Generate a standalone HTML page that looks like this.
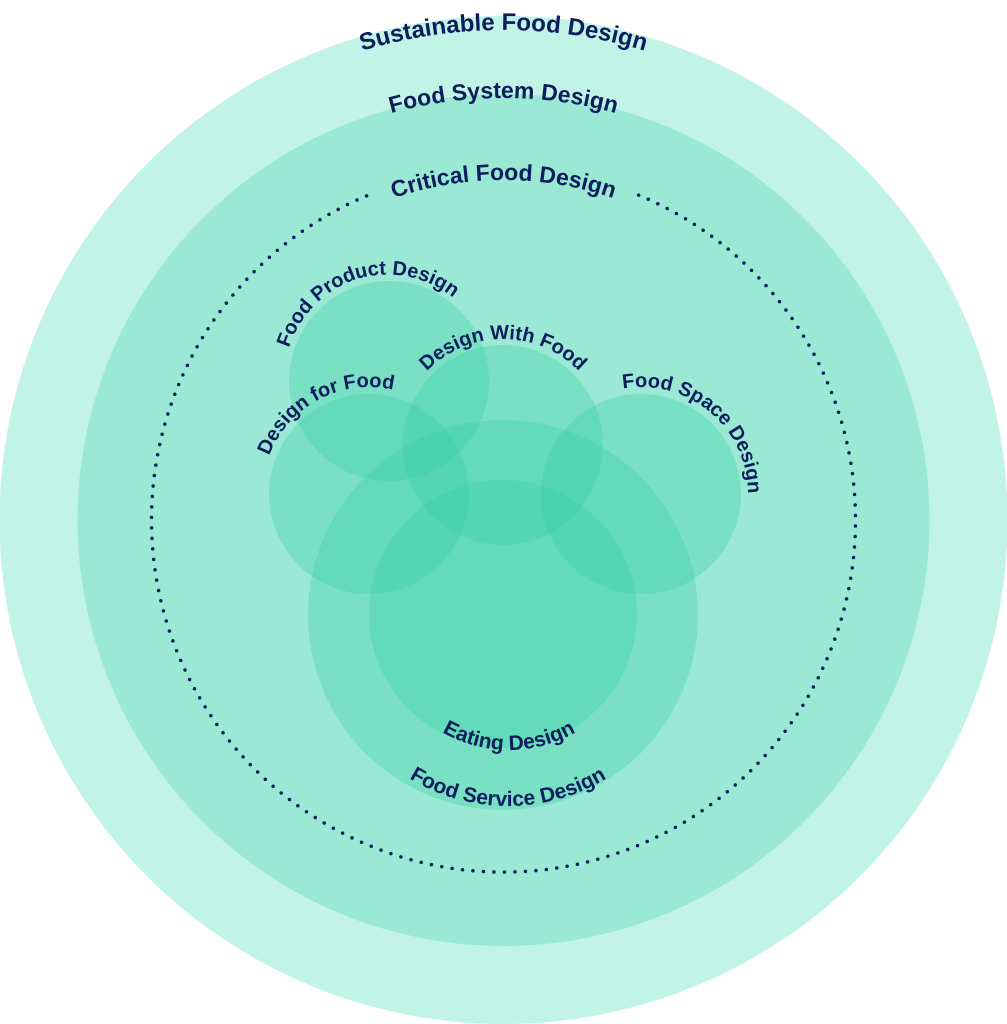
<!DOCTYPE html>
<html><head><meta charset="utf-8"><style>
html,body{margin:0;padding:0;background:#fff;}
svg{display:block;}
text{font-family:"Liberation Sans",sans-serif;font-weight:bold;fill:#0b1d5c;}
</style></head><body>
<svg width="1007" height="1024" viewBox="0 0 1007 1024" xmlns="http://www.w3.org/2000/svg">
<defs>
<path id="p1" d="M503.5,1010 A490,490 0 0 1 503.5,30 A490,490 0 0 1 503.5,1010"/>
<path id="p2" d="M503.5,942 A422,422 0 0 1 503.5,98 A422,422 0 0 1 503.5,942"/>
<path id="p3" d="M503.5,860 A340,340 0 0 1 503.5,180 A340,340 0 0 1 503.5,860"/>
<path id="fp" d="M420.3,483.3 A107,107 0 0 1 357.7,278.7 A107,107 0 0 1 420.3,483.3"/>
<path id="dw" d="M503,551 A106,106 0 0 1 503,339 A106,106 0 0 1 503,551"/>
<path id="df" d="M419.2,588.5 A107,107 0 0 1 318.8,399.5 A107,107 0 0 1 419.2,588.5"/>
<path id="fs" d="M572.2,576 A107,107 0 0 1 709.8,412 A107,107 0 0 1 572.2,576"/>
<path id="ed" d="M509,482 A134,134 0 0 0 509,750 A134,134 0 0 0 509,482"/>
<path id="sv" d="M508,426 A190,190 0 0 0 508,806 A190,190 0 0 0 508,426"/>
</defs>
<circle cx="503.5" cy="520" r="504" fill="#c1f3e6"/>
<circle cx="503.5" cy="520" r="426" fill="#9be9d5"/>
<path d="M638.7,195.1 A352,352 0 1 1 368.3,195.1" fill="none" stroke="#0b1d5c" stroke-width="3.5" stroke-linecap="round" stroke-dasharray="0 10.5"/>
<g fill="rgb(45,206,160)" fill-opacity="0.3">
<circle cx="389" cy="381" r="100"/>
<circle cx="369" cy="494" r="100"/>
<circle cx="503" cy="445" r="100"/>
<circle cx="641" cy="494" r="100"/>
<circle cx="503" cy="615" r="195"/>
<circle cx="503" cy="614" r="134"/>
</g>
<text font-size="24"><textPath href="#p1" startOffset="50%" text-anchor="middle">Sustainable Food Design</textPath></text>
<text font-size="23"><textPath href="#p2" startOffset="50%" text-anchor="middle">Food System Design</textPath></text>
<text font-size="23"><textPath href="#p3" startOffset="50%" text-anchor="middle">Critical Food Design</textPath></text>
<text font-size="20"><textPath href="#fp" startOffset="50%" text-anchor="middle">Food Product Design</textPath></text>
<text font-size="20"><textPath href="#dw" startOffset="50%" text-anchor="middle">Design With Food</textPath></text>
<text font-size="20"><textPath href="#df" startOffset="50%" text-anchor="middle">Design for Food</textPath></text>
<text font-size="20"><textPath href="#fs" startOffset="50%" text-anchor="middle">Food Space Design</textPath></text>
<text font-size="21"><textPath href="#ed" startOffset="50%" text-anchor="middle">Eating Design</textPath></text>
<text font-size="21"><textPath href="#sv" startOffset="50%" text-anchor="middle">Food Service Design</textPath></text>
</svg>
</body></html>
